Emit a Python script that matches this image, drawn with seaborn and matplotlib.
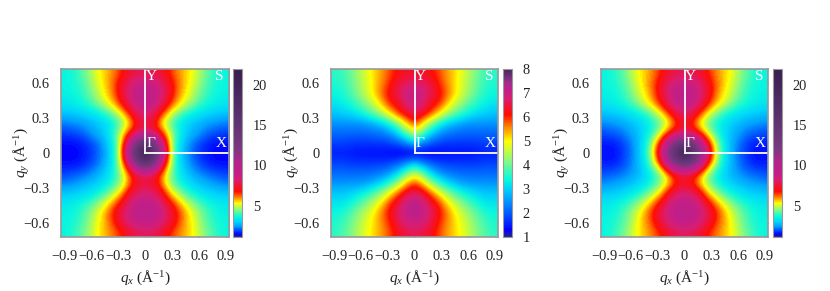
import numpy as np
import matplotlib
matplotlib.use("Agg")
import matplotlib.pyplot as plt
from matplotlib.colors import LinearSegmentedColormap
import seaborn as sns

sns.set_theme(style="white")
plt.rcParams['font.family'] = ['Liberation Serif', 'DejaVu Serif']
plt.rcParams['mathtext.fontset'] = 'custom'
plt.rcParams['mathtext.rm'] = 'Liberation Serif'
plt.rcParams['mathtext.it'] = 'Liberation Serif:italic'

# Right half of each row (q_x >= 0), top row first; the maps are mirror images in q_x.
left_half = [
    [7.8, 7.7, 7.4, 6.6, 6.0, 5.6, 5.2, 4.6, 4.1, 3.7, 3.6],
    [9.0, 8.8, 8.2, 7.2, 6.2, 5.6, 5.0, 4.4, 3.9, 3.7, 3.6],
    [9.4, 9.2, 8.5, 7.3, 6.1, 5.4, 4.8, 4.2, 3.8, 3.6, 3.5],
    [9.2, 9.0, 8.0, 6.7, 5.7, 5.0, 4.4, 3.9, 3.6, 3.4, 3.3],
    [8.5, 8.0, 6.6, 5.3, 4.4, 3.8, 3.4, 3.2, 3.0, 2.9, 2.8],
    [7.5, 7.0, 5.3, 4.3, 3.5, 3.1, 2.8, 2.6, 2.4, 2.3, 2.2],
    [8.6, 8.0, 6.6, 5.1, 3.8, 3.0, 2.6, 2.3, 2.0, 1.9, 1.8],
    [16., 13., 9.0, 5.4, 3.5, 2.6, 2.1, 1.8, 1.6, 1.5, 1.5],
    [22., 16., 11., 5.6, 3.4, 2.5, 2.0, 1.7, 1.5, 1.4, 1.4],
    [16., 13., 8.5, 5.3, 3.4, 2.6, 2.1, 1.8, 1.6, 1.5, 1.5],
    [8.4, 7.8, 6.3, 4.7, 3.6, 2.9, 2.5, 2.2, 2.0, 1.9, 1.8],
    [7.4, 7.2, 6.0, 4.6, 3.8, 3.3, 2.9, 2.7, 2.5, 2.3, 2.2],
    [8.4, 8.0, 7.2, 5.6, 4.7, 4.0, 3.5, 3.2, 3.0, 2.9, 2.8],
    [9.2, 9.0, 8.2, 6.9, 5.9, 5.0, 4.4, 3.9, 3.6, 3.4, 3.3],
    [9.6, 9.4, 8.8, 7.8, 6.7, 5.8, 5.0, 4.4, 3.9, 3.6, 3.5],
    [9.2, 9.0, 8.4, 7.6, 6.5, 5.8, 5.2, 4.5, 4.0, 3.7, 3.6],
    [8.0, 7.8, 7.4, 6.6, 6.1, 5.7, 5.3, 4.7, 4.2, 3.8, 3.6],
]
middle_half = [
    [6.4, 6.3, 6.2, 5.9, 5.5, 5.2, 4.8, 4.4, 4.0, 3.7, 3.6],
    [6.8, 6.7, 6.5, 6.1, 5.6, 5.2, 4.7, 4.3, 3.9, 3.6, 3.5],
    [7.1, 7.0, 6.6, 6.3, 5.8, 5.2, 4.7, 4.2, 3.8, 3.5, 3.4],
    [7.0, 6.8, 6.3, 6.1, 5.4, 4.7, 4.2, 3.8, 3.5, 3.3, 3.2],
    [6.7, 6.4, 6.0, 5.2, 4.5, 4.0, 3.6, 3.3, 3.1, 3.0, 2.9],
    [6.0, 5.2, 4.2, 3.5, 3.0, 2.8, 2.6, 2.5, 2.5, 2.5, 2.5],
    [4.6, 3.9, 3.1, 2.6, 2.3, 2.2, 2.1, 2.1, 2.1, 2.1, 2.1],
    [2.9, 2.4, 2.0, 1.8, 1.7, 1.7, 1.7, 1.7, 1.7, 1.8, 1.8],
    [1.0, 1.1, 1.2, 1.3, 1.4, 1.4, 1.4, 1.4, 1.5, 1.5, 1.5],
    [2.9, 2.4, 2.0, 1.8, 1.7, 1.7, 1.7, 1.7, 1.7, 1.8, 1.8],
    [4.5, 3.9, 3.1, 2.6, 2.3, 2.2, 2.1, 2.1, 2.1, 2.1, 2.1],
    [5.9, 5.3, 4.3, 3.6, 3.1, 2.8, 2.6, 2.5, 2.5, 2.5, 2.5],
    [6.7, 6.4, 5.8, 5.0, 4.3, 3.8, 3.4, 3.2, 3.0, 2.9, 2.9],
    [7.2, 7.0, 6.5, 6.0, 5.2, 4.6, 4.1, 3.7, 3.4, 3.2, 3.2],
    [7.3, 7.1, 6.7, 6.3, 5.7, 5.1, 4.6, 4.2, 3.8, 3.5, 3.4],
    [7.0, 6.9, 6.6, 6.1, 5.6, 5.2, 4.8, 4.4, 4.0, 3.7, 3.5],
    [6.6, 6.5, 6.3, 5.9, 5.5, 5.2, 4.9, 4.5, 4.1, 3.8, 3.6],
]
right_half = [
    [7.8, 7.7, 7.4, 6.6, 6.0, 5.6, 5.2, 4.6, 4.1, 3.7, 3.6],
    [9.0, 8.8, 8.2, 7.2, 6.2, 5.6, 5.0, 4.4, 3.9, 3.7, 3.6],
    [9.4, 9.2, 8.5, 7.3, 6.1, 5.4, 4.8, 4.2, 3.8, 3.6, 3.5],
    [9.2, 9.0, 8.0, 6.7, 5.7, 5.0, 4.4, 3.9, 3.6, 3.4, 3.3],
    [8.3, 7.6, 6.4, 5.2, 4.4, 3.8, 3.4, 3.2, 3.0, 2.9, 2.8],
    [7.2, 6.4, 5.1, 4.3, 3.6, 3.2, 2.9, 2.7, 2.5, 2.4, 2.3],
    [8.2, 7.6, 6.5, 5.0, 3.9, 3.2, 2.7, 2.4, 2.1, 2.0, 1.9],
    [14., 13., 10., 7.0, 4.8, 3.4, 2.6, 2.1, 1.8, 1.6, 1.6],
    [22., 17., 12., 8.0, 5.2, 3.4, 2.6, 2.0, 1.7, 1.45, 1.5],
    [14., 13., 10., 6.8, 4.7, 3.3, 2.6, 2.1, 1.8, 1.6, 1.6],
    [8.0, 7.4, 6.2, 4.6, 3.7, 3.0, 2.6, 2.3, 2.1, 2.0, 1.9],
    [7.0, 6.6, 5.4, 4.4, 3.7, 3.2, 2.9, 2.7, 2.5, 2.4, 2.3],
    [8.4, 7.9, 7.0, 5.5, 4.6, 4.0, 3.5, 3.2, 3.0, 2.9, 2.8],
    [9.2, 9.0, 8.2, 6.9, 5.9, 5.0, 4.4, 3.9, 3.6, 3.4, 3.3],
    [9.6, 9.4, 8.8, 7.8, 6.7, 5.8, 5.0, 4.4, 3.9, 3.6, 3.5],
    [9.2, 9.0, 8.4, 7.6, 6.5, 5.8, 5.2, 4.5, 4.0, 3.7, 3.6],
    [8.0, 7.8, 7.4, 6.6, 6.1, 5.7, 5.3, 4.7, 4.2, 3.8, 3.6],
]

qx_limit = 0.933
qy_limit = 0.72
qx_ticks = [-0.9, -0.6, -0.3, 0, 0.3, 0.6, 0.9]
qy_ticks = [-0.6, -0.3, 0, 0.3, 0.6]
qx_labels = ['\u22120.9', '\u22120.6', '\u22120.3', '0', '0.3', '0.6', '0.9']
qy_labels = ['\u22120.6', '\u22120.3', '0', '0.3', '0.6']
wide_range = (1.1, 22)
narrow_range = (1.0, 8.0)
wide_ticks = [5, 10, 15, 20]
narrow_ticks = [1, 2, 3, 4, 5, 6, 7, 8]
wide_stops = [(1.1, (35, 35, 150)), (1.4, (0, 0, 255)), (1.9, (0, 80, 255)), (2.4, (0, 160, 255)),
              (3.0, (0, 215, 250)), (3.6, (10, 248, 222)), (4.5, (140, 250, 125)), (5.3, (255, 255, 0)),
              (6.0, (255, 130, 0)), (6.7, (255, 15, 0)), (7.6, (238, 20, 65)), (8.3, (215, 30, 115)),
              (9.0, (195, 30, 135)), (10.4, (180, 35, 140)), (12, (125, 55, 130)), (16, (90, 50, 110)),
              (22, (55, 30, 80))]
narrow_stops = [(1.0, (35, 35, 150)), (1.3, (0, 0, 255)), (1.9, (0, 80, 255)), (2.5, (0, 150, 255)),
                (3.0, (0, 210, 250)), (3.4, (10, 248, 222)), (4.2, (140, 250, 125)), (5.0, (255, 255, 0)),
                (5.6, (255, 130, 0)), (6.1, (255, 15, 0)), (6.5, (238, 20, 65)), (6.8, (215, 30, 115)),
                (7.1, (195, 30, 135)), (7.4, (170, 40, 140)), (7.6, (125, 50, 130)), (8.0, (70, 40, 90))]


def make_cmap(stops, span):
    nodes = [((v - span[0]) / (span[1] - span[0]), tuple(c / 255 for c in rgb)) for v, rgb in stops]
    return LinearSegmentedColormap.from_list("bands", nodes, N=256)


W, H = 830, 291
FRAME = '#999999'
INK = '#222222'
panels = [
    (left_half, wide_range, wide_ticks, wide_stops, 61, 229, 232.7, 241.7),
    (middle_half, narrow_range, narrow_ticks, narrow_stops, 331, 498, 502.7, 511.7),
    (right_half, wide_range, wide_ticks, wide_stops, 601, 768, 772.7, 781.7),
]
TOP, BOTTOM = 69, 237
fig = plt.figure(figsize=(W / 100, H / 100), dpi=100)

for half, span, cticks, stops, x0, x1, c0, c1 in panels:
    half = np.array(half, dtype=float)
    grid = np.hstack([half[:, :0:-1], half])
    rows, cols = grid.shape
    cmap = make_cmap(stops, span)
    ax = fig.add_axes([x0 / W, 1 - BOTTOM / H, (x1 - x0) / W, (BOTTOM - TOP) / H])
    cax = fig.add_axes([c0 / W, 1 - BOTTOM / H, (c1 - c0) / W, (BOTTOM - TOP) / H])
    sns.heatmap(grid, ax=ax, cbar_ax=cax, cmap=cmap, vmin=span[0], vmax=span[1],
                xticklabels=False, yticklabels=False)
    ax.imshow(grid, cmap=cmap, vmin=span[0], vmax=span[1], extent=(0, cols, rows, 0),
              interpolation='bicubic', aspect='auto', zorder=2)
    ax.set_xlim(0, cols)
    ax.set_ylim(rows, 0)

    to_x = lambda q: (q + qx_limit) / (2 * qx_limit) * cols
    to_y = lambda q: (qy_limit - q) / (2 * qy_limit) * rows

    ax.plot([to_x(0), to_x(0)], [to_y(qy_limit), to_y(0)], color='white', lw=1.3, zorder=3, solid_capstyle='projecting')
    ax.plot([to_x(0), to_x(qx_limit)], [to_y(0), to_y(0)], color='white', lw=1.3, zorder=3, solid_capstyle='projecting')
    for txt, qx, qy in [('Y', 0.07, 0.655), ('S', 0.83, 0.655), ('\u0393', 0.065, 0.08), ('X', 0.85, 0.08)]:
        ax.text(to_x(qx), to_y(qy), txt, color='white', fontsize=11, ha='center', va='center', zorder=4)

    ax.set_xticks([to_x(q) for q in qx_ticks], qx_labels)
    ax.set_yticks([to_y(q) for q in qy_ticks], qy_labels, rotation=0)
    ax.tick_params(axis='both', which='major', direction='in', length=2.2, width=0.7, color='#333333',
                   top=True, right=True, bottom=True, left=True, labelsize=10.4, labelcolor=INK)
    ax.tick_params(axis='x', pad=9)
    ax.tick_params(axis='y', pad=8)
    ax.set_xlabel(r'$q_x$ (Å$^{-1}$)', fontsize=11, va='center', color=INK)
    ax.set_ylabel(r'$q_y$ (Å$^{-1}$)', fontsize=11, va='center', color=INK)
    ax.xaxis.set_label_coords(0.5, (BOTTOM - 278) / (BOTTOM - TOP))
    ax.yaxis.set_label_coords(-39 / (x1 - x0), 0.5)
    for spine in ax.spines.values():
        spine.set_visible(True)
        spine.set_color(FRAME)
        spine.set_linewidth(1.2)
        spine.set_zorder(5)

    cbar = ax.collections[0].colorbar
    cbar.set_ticks(cticks)
    cbar.ax.tick_params(axis='y', direction='in', length=2, width=0.6, color='#333333',
                        left=True, right=True, labelsize=10.4, pad=8, labelcolor=INK)
    cbar.outline.set_visible(True)
    cbar.outline.set_edgecolor(FRAME)
    cbar.outline.set_linewidth(0.8)

fig.savefig('out.png', dpi=100)
